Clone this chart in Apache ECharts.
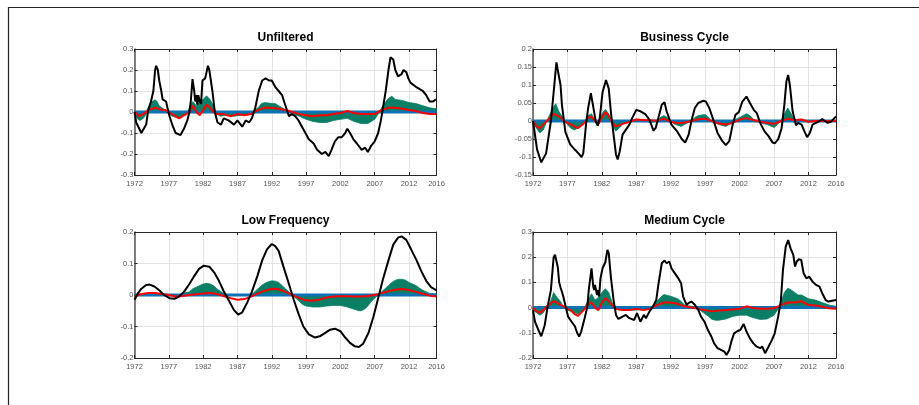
<!DOCTYPE html>
<html><head><meta charset="utf-8">
<script src="https://cdn.jsdelivr.net/npm/echarts@6/dist/echarts.min.js"></script>
<style>html,body{margin:0;padding:0;background:#fff}#c{width:919px;height:405px}</style>
</head><body><div id="c"></div>
<script>
// ---------- data ----------
const titles = ['Unfiltered', 'Business Cycle', 'Low Frequency', 'Medium Cycle'];
const yMin = [-0.3, -0.15, -0.2, -0.2];
const yMax = [0.3, 0.2, 0.2, 0.3];
const yStep = [0.1, 0.05, 0.1, 0.1];
const xStart = 1972, xEnd = 2016, xStep = 5;
const zeroLine = [0, 0];

// Unfiltered
const ufBlack = [[1972.0,0.0],[1972.25,-0.05],[1973.0,-0.1],[1973.1,-0.105],[1973.7,-0.06],[1974.0,0.01],[1974.4,0.05],[1974.75,0.1],[1975.0,0.2],[1975.15,0.22],[1975.4,0.2],[1975.6,0.15],[1975.9,0.1],[1976.1,0.06],[1976.6,0.05],[1976.8,0.02],[1977.1,-0.02],[1977.4,-0.05],[1977.6,-0.07],[1978.0,-0.1],[1978.7,-0.11],[1979.2,-0.08],[1979.7,-0.04],[1980.0,0.0],[1980.2,0.05],[1980.45,0.157],[1980.7,0.1],[1980.85,0.05],[1981.0,0.08],[1981.15,0.035],[1981.3,0.08],[1981.5,0.05],[1981.7,0.04],[1981.9,0.15],[1982.3,0.16],[1982.7,0.22],[1982.9,0.2],[1983.35,0.1],[1983.7,0.0],[1984.1,-0.05],[1984.6,-0.06],[1985.0,-0.03],[1985.7,-0.04],[1986.5,-0.06],[1987.0,-0.04],[1987.7,-0.07],[1988.2,-0.04],[1988.7,-0.05],[1989.1,-0.03],[1989.6,0.02],[1990.1,0.1],[1990.6,0.15],[1991.1,0.16],[1991.6,0.15],[1992.0,0.15],[1992.5,0.12],[1993.0,0.1],[1993.5,0.08],[1994.0,0.03],[1994.5,-0.02],[1994.9,-0.01],[1995.4,-0.02],[1995.9,-0.04],[1996.4,-0.07],[1996.9,-0.1],[1997.4,-0.13],[1998.1,-0.15],[1998.6,-0.18],[1999.3,-0.2],[1999.8,-0.19],[2000.3,-0.21],[2000.7,-0.18],[2001.2,-0.14],[2001.7,-0.12],[2002.2,-0.12],[2002.7,-0.1],[2003.0,-0.08],[2003.4,-0.1],[2003.9,-0.13],[2004.4,-0.15],[2005.1,-0.18],[2005.6,-0.17],[2006.0,-0.19],[2006.5,-0.16],[2007.0,-0.14],[2007.5,-0.1],[2007.9,-0.04],[2008.2,0.02],[2008.6,0.1],[2009.0,0.2],[2009.3,0.26],[2009.7,0.25],[2010.0,0.2],[2010.4,0.17],[2010.9,0.18],[2011.2,0.2],[2011.6,0.19],[2011.9,0.16],[2012.2,0.14],[2012.6,0.13],[2013.0,0.12],[2013.5,0.11],[2014.0,0.1],[2014.5,0.08],[2015.0,0.05],[2015.5,0.05],[2015.9,0.06]];
const ufGreen = [[1972.0,-0.01],[1972.5,-0.035],[1972.8,-0.04],[1973.3,-0.03],[1973.7,-0.01],[1974.0,0.02],[1974.6,0.05],[1975.0,0.058],[1975.3,0.05],[1975.6,0.03],[1976.0,0.02],[1976.5,0.01],[1977.0,-0.01],[1977.5,-0.02],[1978.5,-0.03],[1979.0,-0.02],[1979.5,-0.01],[1980.0,0.02],[1980.5,0.05],[1981.0,0.03],[1981.5,0.05],[1982.0,0.06],[1982.5,0.077],[1983.0,0.06],[1983.5,0.03],[1984.0,-0.01],[1984.5,-0.02],[1985.5,-0.015],[1986.5,-0.02],[1987.5,-0.015],[1988.5,-0.01],[1989.0,-0.005],[1990.0,0.02],[1990.5,0.04],[1991.0,0.045],[1992.0,0.04],[1992.5,0.04],[1993.0,0.03],[1993.5,0.02],[1994.0,0.01],[1995.0,-0.01],[1996.0,-0.02],[1997.0,-0.035],[1998.0,-0.045],[1999.0,-0.05],[2000.0,-0.05],[2001.0,-0.04],[2002.0,-0.035],[2003.0,-0.03],[2004.0,-0.045],[2005.0,-0.055],[2006.0,-0.055],[2007.0,-0.035],[2007.5,-0.01],[2008.0,0.02],[2008.5,0.045],[2009.0,0.065],[2009.5,0.075],[2010.0,0.06],[2011.0,0.055],[2012.0,0.045],[2013.0,0.04],[2014.0,0.03],[2015.0,0.02],[2016.0,0.015]];
const ufRed = [[1972.0,0.0],[1972.7,-0.02],[1973.5,-0.005],[1974.0,0.01],[1975.0,0.02],[1975.5,0.015],[1976.0,0.01],[1976.5,0.01],[1977.0,-0.005],[1977.5,-0.01],[1978.5,-0.03],[1979.0,-0.02],[1979.5,-0.01],[1980.0,0.0],[1980.5,0.03],[1981.0,0.0],[1981.5,-0.015],[1982.0,0.01],[1982.5,0.035],[1983.0,0.02],[1983.5,0.0],[1984.0,-0.01],[1985.0,-0.01],[1986.0,-0.02],[1987.0,-0.01],[1988.0,-0.015],[1989.0,-0.01],[1990.0,0.01],[1991.0,0.02],[1992.0,0.02],[1993.0,0.015],[1994.0,0.01],[1995.0,0.0],[1996.0,-0.01],[1997.0,-0.015],[1998.0,-0.02],[1999.0,-0.015],[2000.0,-0.015],[2001.0,-0.01],[2002.0,-0.005],[2003.0,0.005],[2004.0,-0.005],[2005.0,-0.01],[2006.0,-0.01],[2007.0,-0.01],[2008.0,0.01],[2009.0,0.02],[2010.0,0.02],[2011.0,0.015],[2012.0,0.01],[2013.0,0.005],[2014.0,-0.005],[2015.0,-0.01],[2016.0,-0.01]];

// Business Cycle
const bcBlack = [[1972.0,0.0],[1972.6,-0.08],[1973.2,-0.115],[1973.9,-0.09],[1974.6,0.0],[1975.0,0.08],[1975.4,0.163],[1975.8,0.12],[1976.0,0.1],[1976.2,0.045],[1976.7,-0.03],[1977.4,-0.065],[1978.1,-0.08],[1978.6,-0.09],[1979.05,-0.1],[1979.3,-0.09],[1979.7,-0.01],[1980.0,0.035],[1980.4,0.077],[1980.7,0.045],[1981.1,0.0],[1981.4,-0.013],[1981.7,0.008],[1982.1,0.08],[1982.6,0.114],[1983.0,0.09],[1983.3,0.027],[1983.7,-0.038],[1984.05,-0.093],[1984.3,-0.107],[1984.6,-0.084],[1985.0,-0.038],[1985.5,-0.024],[1986.0,-0.01],[1986.4,0.008],[1987.0,0.031],[1987.6,0.027],[1988.3,0.019],[1988.9,0.004],[1989.5,-0.027],[1989.8,-0.02],[1990.2,0.008],[1990.7,0.045],[1991.1,0.052],[1991.4,0.027],[1992.1,-0.01],[1992.9,-0.028],[1993.6,-0.05],[1994.1,-0.06],[1994.6,-0.038],[1995.0,0.0],[1995.5,0.036],[1996.0,0.05],[1996.7,0.056],[1997.1,0.054],[1997.6,0.036],[1998.1,0.008],[1998.8,-0.033],[1999.5,-0.056],[2000.0,-0.067],[2000.5,-0.056],[2001.0,-0.01],[2001.4,0.017],[2001.9,0.025],[2002.4,0.054],[2003.0,0.068],[2003.5,0.05],[2004.05,0.031],[2004.5,0.022],[2005.0,-0.006],[2005.6,-0.028],[2006.2,-0.042],[2006.8,-0.06],[2007.1,-0.062],[2007.6,-0.051],[2008.1,-0.02],[2008.5,0.045],[2008.8,0.11],[2009.05,0.128],[2009.3,0.1],[2009.7,0.027],[2010.2,-0.012],[2010.5,-0.005],[2011.0,-0.01],[2011.4,-0.028],[2011.8,-0.045],[2012.2,-0.033],[2012.6,-0.01],[2013.1,-0.005],[2013.6,0.0],[2014.0,0.005],[2014.4,0.0],[2014.8,-0.005],[2015.2,-0.003],[2016.0,0.013]];
const bcGreen = [[1972.0,0.0],[1972.5,-0.02],[1973.0,-0.033],[1973.5,-0.025],[1974.0,0.0],[1974.5,0.02],[1975.0,0.04],[1975.3,0.048],[1975.8,0.025],[1976.0,0.02],[1976.5,0.005],[1977.0,-0.01],[1977.5,-0.02],[1978.0,-0.025],[1978.5,-0.02],[1979.0,-0.015],[1979.5,0.0],[1980.0,0.015],[1980.5,0.02],[1981.0,0.0],[1981.5,-0.005],[1982.0,0.02],[1982.5,0.032],[1983.0,0.02],[1983.5,-0.01],[1984.0,-0.028],[1984.5,-0.02],[1985.0,-0.01],[1985.5,-0.005],[1986.0,0.0],[1987.0,0.005],[1988.0,0.003],[1989.0,-0.005],[1990.0,0.0],[1990.5,0.01],[1991.0,0.015],[1991.5,0.01],[1992.0,0.0],[1992.5,-0.008],[1993.0,-0.012],[1993.5,-0.015],[1994.0,-0.01],[1995.0,0.0],[1995.5,0.01],[1996.0,0.015],[1997.0,0.018],[1997.5,0.01],[1998.0,0.0],[1999.0,-0.01],[2000.0,-0.015],[2000.5,-0.01],[2001.0,0.0],[2002.0,0.01],[2003.0,0.02],[2003.5,0.015],[2004.0,0.005],[2005.0,-0.005],[2006.0,-0.01],[2007.0,-0.018],[2007.5,-0.01],[2008.0,0.0],[2008.5,0.02],[2009.0,0.036],[2009.5,0.02],[2010.0,0.0],[2010.5,0.005],[2011.0,0.0],[2012.0,-0.003],[2013.0,0.0],[2016.0,0.0]];
const bcRed = [[1972.0,0.0],[1972.5,-0.015],[1973.0,-0.02],[1973.5,-0.01],[1974.5,0.01],[1975.0,0.02],[1975.5,0.015],[1976.0,0.01],[1976.5,0.0],[1977.0,-0.005],[1977.5,-0.01],[1978.5,-0.02],[1979.5,-0.005],[1980.0,0.01],[1980.5,0.012],[1981.0,0.0],[1981.5,-0.008],[1982.0,0.01],[1982.5,0.024],[1983.0,0.015],[1983.5,-0.005],[1984.0,-0.015],[1984.5,-0.012],[1985.0,-0.008],[1986.0,-0.003],[1987.0,0.004],[1988.0,0.003],[1989.0,0.002],[1990.0,0.001],[1991.0,0.006],[1992.0,-0.002],[1993.0,-0.006],[1994.0,-0.004],[1995.0,0.0],[1996.0,0.005],[1997.0,0.006],[1998.0,0.0],[1999.0,-0.007],[2000.0,-0.01],[2001.0,-0.005],[2002.0,0.004],[2003.0,0.008],[2004.0,0.003],[2005.0,-0.002],[2006.0,-0.005],[2007.0,-0.008],[2008.0,0.0],[2009.0,0.006],[2010.0,0.002],[2011.0,0.004],[2012.0,-0.002],[2013.0,0.0],[2016.0,0.0]];

// Low Frequency
const lfBlack = [[1972.0,-0.015],[1972.5,0.005],[1973.0,0.02],[1973.7,0.032],[1974.2,0.033],[1974.9,0.027],[1975.6,0.015],[1976.3,0.0],[1977.1,-0.01],[1977.8,-0.012],[1978.5,-0.005],[1979.2,0.01],[1980.0,0.035],[1980.7,0.06],[1981.4,0.083],[1982.1,0.093],[1982.9,0.09],[1983.6,0.072],[1984.3,0.045],[1985.0,0.012],[1985.8,-0.02],[1986.5,-0.048],[1987.1,-0.062],[1987.7,-0.055],[1988.4,-0.025],[1989.1,0.01],[1989.9,0.06],[1990.6,0.11],[1991.3,0.145],[1992.0,0.162],[1992.5,0.155],[1993.0,0.14],[1993.7,0.09],[1994.5,0.035],[1995.2,-0.015],[1995.9,-0.06],[1996.6,-0.1],[1997.4,-0.125],[1998.3,-0.135],[1999.1,-0.13],[1999.8,-0.12],[2000.5,-0.11],[2001.2,-0.107],[2002.0,-0.115],[2002.7,-0.135],[2003.4,-0.152],[2004.1,-0.163],[2004.7,-0.165],[2005.3,-0.155],[2006.1,-0.12],[2006.8,-0.07],[2007.5,-0.01],[2008.2,0.05],[2009.0,0.11],[2009.7,0.16],[2010.4,0.182],[2010.9,0.186],[2011.6,0.175],[2012.3,0.145],[2013.1,0.11],[2013.8,0.075],[2014.5,0.045],[2015.2,0.025],[2016.0,0.015]];
const lfGreen = [[1972.0,0.0],[1978.5,0.0],[1979.0,0.005],[1980.0,0.01],[1980.5,0.02],[1981.0,0.025],[1981.5,0.03],[1982.0,0.035],[1982.5,0.037],[1983.0,0.035],[1983.5,0.03],[1984.0,0.02],[1984.5,0.012],[1985.0,0.005],[1985.5,0.0],[1989.0,0.0],[1989.5,0.01],[1990.0,0.02],[1990.5,0.03],[1991.0,0.037],[1991.5,0.042],[1992.0,0.045],[1992.5,0.044],[1993.0,0.04],[1993.5,0.03],[1994.0,0.02],[1994.5,0.01],[1995.0,0.0],[1995.5,-0.01],[1996.0,-0.02],[1996.5,-0.03],[1997.0,-0.035],[1998.0,-0.038],[1999.0,-0.038],[2000.0,-0.035],[2001.0,-0.033],[2002.0,-0.033],[2003.0,-0.038],[2004.0,-0.045],[2004.7,-0.05],[2005.0,-0.05],[2005.5,-0.045],[2006.0,-0.035],[2006.5,-0.02],[2007.0,-0.01],[2007.5,0.0],[2008.0,0.01],[2008.5,0.02],[2009.0,0.03],[2009.5,0.04],[2010.0,0.047],[2010.5,0.05],[2011.0,0.05],[2011.5,0.047],[2012.0,0.04],[2012.5,0.035],[2013.0,0.03],[2013.5,0.022],[2014.0,0.015],[2014.5,0.01],[2015.0,0.005],[2016.0,0.003]];
const lfRed = [[1972.0,-0.005],[1973.0,0.003],[1974.0,0.006],[1975.0,0.006],[1976.0,0.003],[1977.0,0.0],[1978.0,-0.005],[1979.0,-0.003],[1980.0,0.0],[1981.0,0.002],[1982.0,0.005],[1983.0,0.006],[1984.0,0.003],[1985.0,-0.003],[1986.0,-0.01],[1987.0,-0.015],[1988.0,-0.013],[1989.0,-0.005],[1990.0,0.005],[1991.0,0.014],[1992.0,0.02],[1993.0,0.018],[1994.0,0.01],[1995.0,0.0],[1996.0,-0.01],[1997.0,-0.017],[1998.0,-0.018],[1999.0,-0.014],[2000.0,-0.008],[2001.0,-0.005],[2002.0,-0.004],[2003.0,-0.004],[2004.0,-0.005],[2005.0,-0.005],[2006.0,-0.003],[2007.0,0.0],[2008.0,0.006],[2009.0,0.012],[2010.0,0.017],[2011.0,0.019],[2012.0,0.016],[2013.0,0.01],[2014.0,0.004],[2015.0,-0.002],[2016.0,-0.005]];

// Medium Cycle
const mcBlack = [[1972.0,-0.01],[1972.3,-0.057],[1972.8,-0.09],[1973.2,-0.114],[1973.7,-0.07],[1974.1,0.0],[1974.6,0.07],[1975.0,0.2],[1975.2,0.21],[1975.6,0.16],[1975.8,0.1],[1976.0,0.08],[1976.2,0.063],[1976.4,0.044],[1976.8,-0.003],[1977.1,-0.036],[1977.6,-0.056],[1978.1,-0.075],[1978.4,-0.1],[1978.7,-0.115],[1979.0,-0.095],[1979.5,-0.042],[1979.9,0.004],[1980.1,0.07],[1980.5,0.156],[1980.75,0.083],[1980.9,0.07],[1981.0,0.09],[1981.3,0.05],[1981.45,0.07],[1981.6,0.044],[1981.8,0.116],[1982.1,0.156],[1982.5,0.18],[1982.8,0.229],[1983.0,0.216],[1983.3,0.123],[1983.7,0.03],[1984.05,-0.029],[1984.4,-0.045],[1985.0,-0.036],[1985.5,-0.029],[1986.0,-0.042],[1986.7,-0.049],[1987.1,-0.022],[1987.6,-0.056],[1988.1,-0.029],[1988.4,-0.042],[1988.9,-0.016],[1989.4,0.004],[1989.9,0.03],[1990.2,0.09],[1990.7,0.176],[1991.1,0.187],[1991.4,0.176],[1991.8,0.183],[1992.1,0.156],[1992.6,0.136],[1993.1,0.116],[1993.5,0.097],[1993.8,0.044],[1994.3,0.011],[1994.7,0.02],[1995.0,0.024],[1995.5,0.011],[1996.0,-0.009],[1996.4,-0.036],[1996.9,-0.056],[1997.4,-0.089],[1997.9,-0.115],[1998.3,-0.142],[1998.8,-0.161],[1999.3,-0.168],[1999.8,-0.175],[2000.1,-0.188],[2000.5,-0.168],[2000.8,-0.135],[2001.2,-0.102],[2001.7,-0.093],[2002.1,-0.089],[2002.6,-0.065],[2003.0,-0.095],[2003.5,-0.122],[2004.0,-0.142],[2004.5,-0.155],[2005.0,-0.161],[2005.3,-0.155],[2005.7,-0.181],[2006.2,-0.155],[2006.7,-0.128],[2007.1,-0.102],[2007.6,-0.036],[2008.0,0.03],[2008.3,0.15],[2008.7,0.242],[2009.05,0.268],[2009.4,0.235],[2009.8,0.209],[2010.05,0.163],[2010.3,0.183],[2010.6,0.192],[2010.95,0.189],[2011.3,0.136],[2011.7,0.116],[2012.1,0.123],[2012.6,0.103],[2013.1,0.09],[2013.6,0.083],[2014.0,0.057],[2014.5,0.03],[2014.9,0.024],[2016.0,0.03]];
const mcGreen = [[1972.0,-0.01],[1972.5,-0.02],[1973.0,-0.03],[1973.5,-0.02],[1974.0,0.0],[1974.5,0.02],[1975.0,0.06],[1975.5,0.04],[1976.0,0.024],[1976.5,0.0],[1977.0,-0.01],[1977.5,-0.015],[1978.0,-0.02],[1978.5,-0.025],[1979.0,-0.015],[1979.5,0.0],[1980.0,0.03],[1980.5,0.055],[1981.0,0.03],[1981.5,0.04],[1982.0,0.06],[1982.5,0.075],[1983.0,0.06],[1983.5,0.02],[1984.0,-0.005],[1984.5,-0.01],[1985.0,-0.005],[1986.0,-0.01],[1987.0,-0.01],[1988.0,-0.005],[1989.0,0.0],[1989.5,0.01],[1990.0,0.025],[1990.5,0.04],[1991.0,0.052],[1992.0,0.045],[1992.5,0.04],[1993.0,0.035],[1993.5,0.025],[1994.0,0.01],[1995.0,0.005],[1996.0,-0.005],[1996.5,-0.015],[1997.0,-0.025],[1997.5,-0.035],[1998.0,-0.047],[1998.5,-0.05],[1999.0,-0.05],[2000.0,-0.045],[2001.0,-0.035],[2002.0,-0.03],[2003.0,-0.03],[2004.0,-0.04],[2005.0,-0.047],[2006.0,-0.045],[2007.0,-0.03],[2007.5,-0.01],[2008.0,0.02],[2008.5,0.06],[2009.0,0.077],[2009.5,0.07],[2010.0,0.06],[2010.5,0.05],[2011.0,0.05],[2012.0,0.035],[2013.0,0.03],[2014.0,0.02],[2015.0,0.01],[2016.0,0.005]];
const mcRed = [[1972.0,0.0],[1972.5,-0.015],[1973.0,-0.02],[1973.5,-0.01],[1974.0,0.005],[1975.0,0.025],[1975.5,0.02],[1976.0,0.01],[1976.5,0.005],[1977.0,-0.005],[1977.5,-0.01],[1978.0,-0.025],[1978.5,-0.033],[1979.0,-0.02],[1979.5,-0.005],[1980.0,0.015],[1980.5,0.02],[1981.0,0.0],[1981.5,-0.01],[1982.0,0.02],[1982.5,0.037],[1983.0,0.025],[1983.5,0.01],[1984.0,-0.005],[1985.0,-0.01],[1986.0,-0.01],[1987.0,-0.005],[1988.0,-0.01],[1989.0,-0.005],[1990.0,0.01],[1991.0,0.02],[1992.0,0.02],[1993.0,0.015],[1994.0,0.005],[1995.0,0.0],[1996.0,-0.005],[1997.0,-0.01],[1998.0,-0.015],[1999.0,-0.012],[2000.0,-0.01],[2001.0,-0.008],[2002.0,-0.005],[2003.0,0.005],[2004.0,-0.002],[2005.0,-0.005],[2006.0,-0.005],[2007.0,-0.003],[2008.0,0.01],[2009.0,0.02],[2010.0,0.02],[2011.0,0.025],[2012.0,0.01],[2013.0,0.008],[2014.0,0.003],[2015.0,-0.003],[2016.0,-0.005]];

const blackSeries = [ufBlack, bcBlack, lfBlack, mcBlack];
const greenSeries = [ufGreen, bcGreen, lfGreen, mcGreen];
const redSeries = [ufRed, bcRed, lfRed, mcRed];

// ---------- layout ----------
const grids = [
  {left: 134.5, top: 49, width: 302, height: 126},
  {left: 533, top: 49, width: 303, height: 126},
  {left: 134.5, top: 232, width: 302, height: 126},
  {left: 533, top: 232, width: 303, height: 126}
];
const FONT = 'Liberation Sans, Arial, sans-serif';
const axisLineStyle = {color: '#262626', width: 1};
const tickStyle = {color: '#262626', width: 1};

const xAxes = [], yAxes = [], series = [], graphics = [];
grids.forEach((g, i) => {
  // bottom x axis (labels)
  xAxes.push({
    type: 'value', gridIndex: i, min: xStart, max: xEnd, interval: xStep, position: 'bottom',
    axisLine: {show: true, onZero: false, lineStyle: axisLineStyle},
    axisTick: {show: true, inside: true, length: 3, lineStyle: tickStyle},
    axisLabel: {show: true, fontSize: 7.5, color: '#555', margin: 5, fontFamily: FONT,
      formatter: v => String(Math.round(v))},
    splitLine: {show: true, lineStyle: {color: '#e3e3e3', width: 1}}
  });
  // top mirror
  xAxes.push({
    type: 'value', gridIndex: i, min: xStart, max: xEnd, interval: xStep, position: 'top',
    axisLine: {show: true, onZero: false, lineStyle: axisLineStyle},
    axisTick: {show: true, inside: true, length: 3, lineStyle: tickStyle},
    axisLabel: {show: false}, splitLine: {show: false}
  });
  yAxes.push({
    type: 'value', gridIndex: i, min: yMin[i], max: yMax[i], interval: yStep[i], position: 'left',
    axisLine: {show: true, onZero: false, lineStyle: {color: '#555', width: 1.5}},
    axisTick: {show: true, inside: true, length: 3, lineStyle: tickStyle},
    axisLabel: {show: true, fontSize: 7.5, color: '#555', margin: 1, fontFamily: FONT,
      formatter: v => String(+v.toFixed(2))},
    splitLine: {show: true, lineStyle: {color: '#e3e3e3', width: 1}}
  });
  yAxes.push({
    type: 'value', gridIndex: i, min: yMin[i], max: yMax[i], interval: yStep[i], position: 'right',
    axisLine: {show: true, onZero: false, lineStyle: axisLineStyle},
    axisTick: {show: true, inside: true, length: 3, lineStyle: tickStyle},
    axisLabel: {show: false}, splitLine: {show: false}
  });
  const xi = i * 2, yi = i * 2;
  series.push({
    type: 'line', xAxisIndex: xi, yAxisIndex: yi, data: greenSeries[i], symbol: 'none',
    lineStyle: {width: 0.8, color: '#0a7f66'}, areaStyle: {color: '#0a7f66', opacity: 1}, z: 1, silent: true
  });
  series.push({
    type: 'line', xAxisIndex: xi, yAxisIndex: yi, data: [[xStart, zeroLine[0]], [xEnd, zeroLine[1]]], symbol: 'none',
    lineStyle: {width: 3, color: '#0a72b5'}, z: 2, silent: true
  });
  series.push({
    type: 'line', xAxisIndex: xi, yAxisIndex: yi, data: redSeries[i], symbol: 'none',
    lineStyle: {width: 2, color: '#ff0000'}, z: 3, silent: true
  });
  series.push({
    type: 'line', xAxisIndex: xi, yAxisIndex: yi, data: blackSeries[i], symbol: 'none',
    lineStyle: {width: 2, color: '#000000'}, z: 4, silent: true
  });
  graphics.push({
    type: 'text', x: g.left + g.width / 2, y: g.top - 11,
    style: {text: titles[i], font: 'bold 12px ' + FONT, fill: '#000', textAlign: 'center', textVerticalAlign: 'middle'}
  });
});
graphics.push({type: 'line', shape: {x1: 8, y1: 7.5, x2: 919, y2: 7.5}, style: {stroke: '#222', lineWidth: 1.2}});
graphics.push({type: 'line', shape: {x1: 8.5, y1: 7, x2: 8.5, y2: 405}, style: {stroke: '#222', lineWidth: 1.2}});

const chart = echarts.init(document.getElementById('c'), null, {renderer: 'canvas'});
chart.setOption({
  animation: false,
  backgroundColor: '#fff',
  grid: grids.map(g => Object.assign({containLabel: false}, g)),
  xAxis: xAxes,
  yAxis: yAxes,
  series: series,
  graphic: graphics
});
</script>
</body></html>
